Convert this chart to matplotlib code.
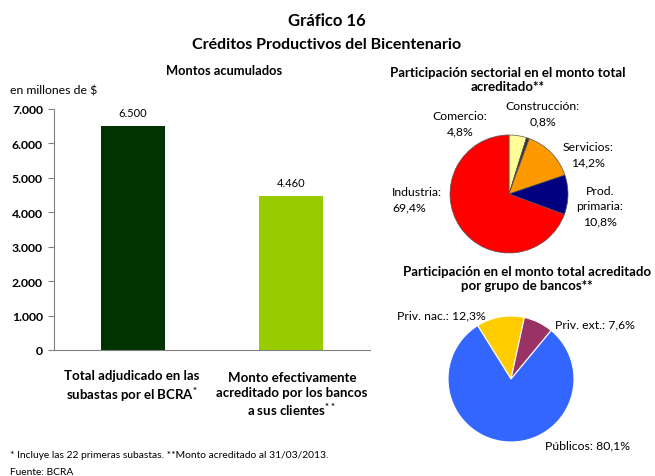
import matplotlib.pyplot as plt

plt.rcParams["font.family"] = ["Lato", "DejaVu Sans"]
plt.rcParams["mathtext.fontset"] = "custom"
plt.rcParams["mathtext.rm"] = "Lato:bold"
plt.rcParams["mathtext.bf"] = "Lato:bold"

W, H = 655, 477

# bar chart data
bar_labels = ["Total adjudicado en las\nsubastas por el BCRA",
              "Monto efectivamente\nacreditado por los bancos\na sus clientes"]
bar_marks = ["*", "**"]
bar_values = [6500, 4460]
bar_colors = ["#003300", "#99CC00"]
yticks = [0, 1000, 2000, 3000, 4000, 5000, 6000, 7000]

# sector pie
sector_names = ["Comercio", "Construcción", "Servicios", "Prod.\nprimaria", "Industria"]
sector_pct = [4.8, 0.8, 14.2, 10.8, 69.4]
sector_colors = ["#FFFF99", "#333333", "#FF9900", "#000080", "#FF0000"]

# bank group pie
bank_names = ["Priv. nac.", "Priv. ext.", "Públicos"]
bank_pct = [12.3, 7.6, 80.1]
bank_colors = ["#FFCC00", "#993366", "#3366FF"]


def fmt_num(v):
    return f"{v:,.0f}".replace(",", ".")


def fmt_pct(v):
    return f"{v:.1f}%".replace(".", ",")


def fx(px):
    return px / W


def fy(py):
    return 1 - py / H


fig = plt.figure(figsize=(W / 100, H / 100), dpi=100)

fig.text(fx(327), fy(21), "Gráfico 16", ha="center", va="center", fontsize=12, fontweight="bold")
fig.text(fx(327), fy(45), "Créditos Productivos del Bicentenario", ha="center", va="center",
         fontsize=11.5, fontweight="bold")

# ---- bars
ax = fig.add_axes([fx(54), fy(351), fx(316), (351 - 110) / H])
x = range(len(bar_values))
ax.bar(x, bar_values, width=0.405, color=bar_colors)
for xi, v in zip(x, bar_values):
    ax.text(xi, v + 250, fmt_num(v), ha="center", va="bottom", fontsize=8)
ax.set_xlim(-0.5, 1.5)
ax.set_ylim(0, 7000)
ax.set_yticks(yticks)
ax.set_yticklabels([fmt_num(t) for t in yticks], fontsize=8.8, fontweight="bold")
ax.set_xticks([])
for s in ["top", "right"]:
    ax.spines[s].set_visible(False)
ax.spines["left"].set_color("#808080")
ax.spines["bottom"].set_color("#808080")
ax.tick_params(axis="y", direction="out", length=4, color="#808080", pad=4)

fig.text(fx(224), fy(71), "Montos acumulados", ha="center", va="center", fontsize=9.3,
         fontweight="bold")
fig.text(fx(10), fy(91), "en millones de $", ha="left", va="center", fontsize=8.8)

label_pos = [(132, 387), (292, 395)]
for lab, mark, (px, py) in zip(bar_labels, bar_marks, label_pos):
    fig.text(fx(px), fy(py), lab + "$^{" + mark + "}$", ha="center", va="center",
             fontsize=9.5, fontweight="bold", linespacing=1.25)

fig.text(fx(10), fy(456), "* Incluye las 22 primeras subastas. **Monto acreditado al 31/03/2013.",
         ha="left", va="center", fontsize=7.4)
fig.text(fx(10), fy(473), "Fuente: BCRA", ha="left", va="center", fontsize=7.4)


# ---- pies
def pie_axes(cx, cy, r):
    return fig.add_axes([fx(cx - r), fy(cy + r), fx(2 * r), 2 * r / H])


ax1 = pie_axes(509, 195, 59)
ax1.pie(sector_pct, colors=sector_colors, startangle=90, counterclock=False, radius=1,
        wedgeprops=dict(edgecolor="#555555", linewidth=0.5))
ax1.set_xlim(-1, 1)
ax1.set_ylim(-1, 1)

fig.text(fx(508), fy(80), "Participación sectorial en el monto total\nacreditado**", ha="center",
         va="center", fontsize=9.5, fontweight="bold", linespacing=1.25)

sector_pos = [(460, 124, "center"), (543, 114, "center"), (588, 155, "center"),
              (600, 207, "center"), (392, 200, "left")]
for name, p, (px, py, ha) in zip(sector_names, sector_pct, sector_pos):
    fig.text(fx(px), fy(py), f"{name}:\n{fmt_pct(p)}", ha=ha, va="center", fontsize=8.8,
             linespacing=1.45)

ax2 = pie_axes(511, 380, 63)
ax2.pie(bank_pct, colors=bank_colors, startangle=122, counterclock=False, radius=1,
        wedgeprops=dict(edgecolor="white", linewidth=0.8))
ax2.set_xlim(-1, 1)
ax2.set_ylim(-1, 1)

fig.text(fx(527), fy(279), "Participación en el monto total acreditado\npor grupo de bancos**",
         ha="center", va="center", fontsize=9.5, fontweight="bold", linespacing=1.25)

bank_pos = [(397, 316, "left"), (555, 325, "left"), (630, 446, "right")]
for name, p, (px, py, ha) in zip(bank_names, bank_pct, bank_pos):
    fig.text(fx(px), fy(py), f"{name}: {fmt_pct(p)}", ha=ha, va="center", fontsize=8.8)

fig.savefig("out.png", dpi=100)
